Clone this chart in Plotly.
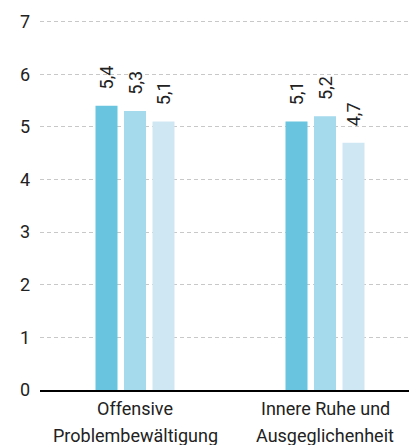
import plotly.graph_objects as go

category_lines = [["Offensive", "Problembewältigung"], ["Innere Ruhe und", "Ausgeglichenheit"]]
categories = [" ".join(c) for c in category_lines]
series_names = ["Serie 1", "Serie 2", "Serie 3"]
series_values = [
    [5.4, 5.1],
    [5.3, 5.2],
    [5.1, 4.7],
]
colors = ["#69C5DF", "#A5D9EC", "#CFE7F3"]
y_ticks = [0, 1, 2, 3, 4, 5, 6, 7]

PAD = "\u00a0\u00a0\u00a0"

fig = go.Figure()
for name, vals, col in zip(series_names, series_values, colors):
    fig.add_trace(go.Bar(
        x=categories, y=vals, name=name, marker_color=col, marker_line_width=0,
        text=[PAD + f"{v:.1f}".replace(".", ",") for v in vals],
        textposition="outside", textangle=-90, constraintext="none",
        textfont=dict(size=18, color="#222222"),
        cliponaxis=False,
    ))

for cat, lines in zip(categories, category_lines):
    for i, line in enumerate(lines):
        fig.add_annotation(
            x=cat, xref="x", y=0, yref="paper", yanchor="middle",
            yshift=-18 - 27 * i, text=line, showarrow=False,
            font=dict(size=18, color="#222222"),
        )

fig.update_layout(
    width=412, height=437,
    margin=dict(l=32, r=0, t=11, b=55),
    paper_bgcolor="white", plot_bgcolor="white",
    barmode="group", bargap=0.55, bargroupgap=0.228,
    showlegend=False,
    font=dict(family="Roboto, Inter, sans-serif", size=18, color="#222222"),
)
fig.update_yaxes(
    range=[0, 7.05], tickvals=y_ticks, showgrid=True, gridcolor="#C8C8C8",
    griddash="4px,3px", gridwidth=1, zeroline=False, ticks="", ticklabelstandoff=9,
    tickfont=dict(size=18, color="#222222"),
)
fig.update_xaxes(
    showline=True, linecolor="black", linewidth=2, ticks="", showticklabels=False,
)
fig.write_html("out.html")
